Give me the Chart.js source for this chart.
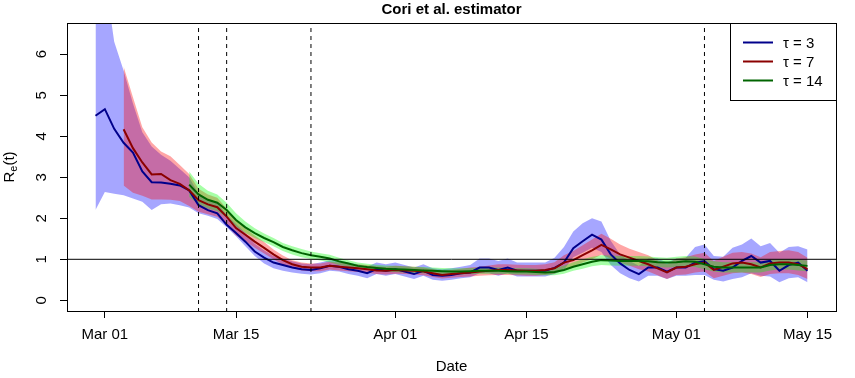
<!DOCTYPE html>
<html>
<head>
<meta charset="utf-8">
<script src="https://cdn.jsdelivr.net/npm/chart.js@4/dist/chart.umd.min.js"></script>
<style>
  html, body { margin: 0; padding: 0; background: #fff; }
</style>
</head>
<body>
<canvas id="chart" width="855" height="378"></canvas>
<script>
// first day of the series = Feb 29 (day -1, Mar 01 = day 0)
const firstDay = -1;

const tickDays = [0, 14, 31, 45, 61, 75];
const tickLabels = ['Mar 01', 'Mar 15', 'Apr 01', 'Apr 15', 'May 01', 'May 15'];
const yTicks = [0, 1, 2, 3, 4, 5, 6];
const breakDays = [10, 13, 22, 64]; // Mar 11, Mar 14, Mar 23, May 04

// tau = 3
const blueMean = [
  4.50, 4.66, 4.18, 3.84, 3.60, 3.14, 2.88, 2.87, 2.84, 2.80,
  2.68, 2.32, 2.20, 2.12, 1.84, 1.64, 1.43, 1.19, 1.04, 0.92,
  0.86, 0.80, 0.76, 0.74, 0.78, 0.84, 0.82, 0.76, 0.72, 0.66,
  0.76, 0.72, 0.76, 0.70, 0.64, 0.72, 0.62, 0.60, 0.62, 0.66,
  0.68, 0.80, 0.80, 0.74, 0.80, 0.72, 0.72, 0.72, 0.72, 0.79,
  0.92, 1.27, 1.44, 1.60, 1.48, 1.12, 0.90, 0.74, 0.64, 0.80,
  0.80, 0.70, 0.80, 0.80, 0.92, 0.96, 0.76, 0.72, 0.80, 0.96,
  1.08, 0.92, 0.96, 0.72, 0.86, 0.92, 0.72
];
const blueUpper = [
  10.0, 7.9, 6.3, 5.6, 4.8, 4.1, 3.75, 3.55, 3.4, 3.2,
  3.0, 2.6, 2.45, 2.38, 2.08, 1.86, 1.64, 1.38, 1.22, 1.08,
  1.02, 0.95, 0.90, 0.88, 0.92, 0.98, 0.98, 0.92, 0.88, 0.82,
  0.92, 0.88, 0.92, 0.86, 0.80, 0.88, 0.78, 0.76, 0.78, 0.82,
  0.86, 1.02, 1.02, 0.96, 1.02, 0.92, 0.92, 0.92, 0.92, 1.04,
  1.30, 1.68, 1.88, 2.0, 1.92, 1.45, 1.12, 0.96, 0.84, 1.02,
  1.02, 0.92, 1.02, 1.04, 1.30, 1.36, 1.08, 1.06, 1.28, 1.36,
  1.51, 1.32, 1.40, 1.16, 1.30, 1.32, 1.24
];
const blueLower = [
  2.2, 2.64, 2.6, 2.56, 2.48, 2.40, 2.20, 2.34, 2.36, 2.32,
  2.26, 2.12, 2.06, 1.98, 1.78, 1.56, 1.32, 1.08, 0.90, 0.78,
  0.72, 0.68, 0.65, 0.63, 0.66, 0.72, 0.70, 0.64, 0.60, 0.54,
  0.64, 0.60, 0.64, 0.58, 0.52, 0.60, 0.50, 0.48, 0.50, 0.54,
  0.56, 0.66, 0.66, 0.60, 0.66, 0.58, 0.58, 0.58, 0.58, 0.64,
  0.74, 1.05, 1.16, 1.28, 1.18, 0.86, 0.66, 0.54, 0.46, 0.60,
  0.60, 0.52, 0.60, 0.60, 0.62, 0.62, 0.50, 0.46, 0.52, 0.56,
  0.66, 0.60, 0.58, 0.44, 0.54, 0.56, 0.44
];

// tau = 7
const redMean = [
  null, null, null, 4.17, 3.71, 3.36, 3.07, 3.08, 2.93, 2.84,
  2.68, 2.44, 2.34, 2.27, 2.04, 1.76, 1.60, 1.43, 1.28, 1.12,
  0.98, 0.88, 0.82, 0.80, 0.80, 0.84, 0.82, 0.80, 0.78, 0.76,
  0.73, 0.72, 0.74, 0.73, 0.72, 0.70, 0.66, 0.62, 0.64, 0.66,
  0.68, 0.70, 0.72, 0.74, 0.74, 0.73, 0.72, 0.72, 0.74, 0.78,
  0.92, 0.98, 1.10, 1.22, 1.35, 1.24, 1.12, 1.04, 0.96, 0.88,
  0.78, 0.68, 0.80, 0.82, 0.88, 0.92, 0.74, 0.82, 0.90, 0.92,
  0.88, 0.80, 0.90, 0.92, 0.92, 0.88, 0.76
];
const redUpper = [
  null, null, null, 5.7, 4.95, 4.22, 3.85, 3.63, 3.51, 3.30,
  3.08, 2.72, 2.58, 2.50, 2.24, 1.94, 1.76, 1.58, 1.42, 1.24,
  1.09, 0.98, 0.92, 0.90, 0.90, 0.94, 0.92, 0.90, 0.88, 0.86,
  0.83, 0.82, 0.84, 0.83, 0.82, 0.80, 0.76, 0.72, 0.74, 0.77,
  0.80, 0.82, 0.85, 0.88, 0.88, 0.87, 0.86, 0.86, 0.88, 0.93,
  1.10, 1.20, 1.34, 1.48, 1.62, 1.50, 1.36, 1.26, 1.18, 1.10,
  0.98, 0.88, 1.02, 1.05, 1.12, 1.16, 0.96, 1.06, 1.16, 1.18,
  1.14, 1.05, 1.18, 1.20, 1.22, 1.18, 1.04
];
const redLower = [
  null, null, null, 2.8, 2.62, 2.55, 2.46, 2.46, 2.45, 2.42,
  2.30, 2.16, 2.10, 2.04, 1.84, 1.58, 1.44, 1.28, 1.14, 1.00,
  0.87, 0.78, 0.73, 0.71, 0.71, 0.75, 0.73, 0.71, 0.69, 0.67,
  0.64, 0.63, 0.65, 0.64, 0.63, 0.61, 0.57, 0.53, 0.55, 0.57,
  0.58, 0.60, 0.61, 0.62, 0.62, 0.61, 0.60, 0.60, 0.62, 0.65,
  0.77, 0.82, 0.92, 1.00, 1.11, 1.02, 0.92, 0.84, 0.76, 0.70,
  0.61, 0.52, 0.62, 0.63, 0.68, 0.70, 0.54, 0.60, 0.66, 0.68,
  0.64, 0.57, 0.64, 0.66, 0.66, 0.62, 0.52
];

// tau = 14
const greenMean = [
  null, null, null, null, null, null, null, null, null, null,
  2.82, 2.58, 2.45, 2.38, 2.20, 1.96, 1.78, 1.64, 1.52, 1.42,
  1.30, 1.22, 1.15, 1.10, 1.06, 1.02, 0.95, 0.90, 0.84, 0.81,
  0.79, 0.77, 0.76, 0.75, 0.74, 0.73, 0.72, 0.71, 0.70, 0.70,
  0.71, 0.72, 0.72, 0.72, 0.71, 0.70, 0.70, 0.69, 0.68, 0.69,
  0.74, 0.82, 0.88, 0.94, 0.98, 0.97, 0.96, 0.96, 0.96, 0.95,
  0.93, 0.92, 0.93, 0.95, 0.94, 0.88, 0.82, 0.80, 0.80, 0.80,
  0.80, 0.80, 0.86, 0.88, 0.88, 0.86, 0.84
];
const greenUpper = [
  null, null, null, null, null, null, null, null, null, null,
  3.14, 2.84, 2.67, 2.58, 2.38, 2.12, 1.92, 1.76, 1.63, 1.52,
  1.40, 1.32, 1.25, 1.19, 1.15, 1.11, 1.04, 0.98, 0.92, 0.89,
  0.87, 0.85, 0.84, 0.83, 0.82, 0.81, 0.80, 0.79, 0.78, 0.78,
  0.79, 0.80, 0.80, 0.80, 0.79, 0.78, 0.78, 0.77, 0.76, 0.78,
  0.84, 0.93, 1.00, 1.06, 1.10, 1.09, 1.08, 1.08, 1.08, 1.07,
  1.05, 1.04, 1.06, 1.08, 1.07, 1.01, 0.95, 0.93, 0.93, 0.93,
  0.93, 0.93, 0.99, 1.01, 1.01, 0.99, 0.97
];
const greenLower = [
  null, null, null, null, null, null, null, null, null, null,
  2.52, 2.34, 2.24, 2.18, 2.02, 1.80, 1.64, 1.52, 1.42, 1.32,
  1.20, 1.12, 1.05, 1.01, 0.97, 0.93, 0.86, 0.82, 0.77, 0.74,
  0.72, 0.70, 0.69, 0.68, 0.67, 0.66, 0.65, 0.64, 0.63, 0.63,
  0.64, 0.65, 0.65, 0.65, 0.64, 0.63, 0.63, 0.62, 0.61, 0.61,
  0.65, 0.72, 0.77, 0.83, 0.86, 0.85, 0.84, 0.84, 0.84, 0.83,
  0.81, 0.80, 0.81, 0.82, 0.81, 0.76, 0.70, 0.68, 0.68, 0.68,
  0.68, 0.68, 0.73, 0.75, 0.75, 0.73, 0.71
];

const seriesNames = ['\u03c4 = 3', '\u03c4 = 7', '\u03c4 = 14'];
const lineColors = ['#00008b', '#8b0000', '#006400'];
const bandColors = ['rgba(0, 0, 255, 0.35)', 'rgba(255, 0, 0, 0.35)', 'rgba(0, 255, 0, 0.35)'];

const fontFamily = '"Liberation Sans", Arial, Helvetica, sans-serif';
const xMin = -4.04, xMax = 78.04;
const yMin = -0.26, yMax = 6.76;

function toPoints(values) {
    return values.map((v, i) => ({ x: firstDay + i, y: v }));
}

function lineSet(values, color) {
    return { data: toPoints(values), borderColor: color, borderWidth: 2, pointRadius: 0, fill: false, spanGaps: false };
}

function bandSets(upper, lower, color) {
    return [
        { data: toPoints(upper), borderWidth: 0, borderColor: 'transparent', backgroundColor: color, pointRadius: 0, fill: '+1' },
        { data: toPoints(lower), borderWidth: 0, borderColor: 'transparent', pointRadius: 0, fill: false }
    ];
}

// reference lines (R abline)
const refSets = breakDays.map(d => ({
    data: [{ x: d, y: yMin - 1 }, { x: d, y: yMax + 1 }],
    borderColor: '#000', borderWidth: 1, borderDash: [4, 4], pointRadius: 0, fill: false
}));
refSets.push({
    data: [{ x: xMin - 5, y: 1 }, { x: xMax + 5, y: 1 }],
    borderColor: '#000', borderWidth: 1, pointRadius: 0, fill: false
});

// first index = drawn last (on top)
const datasets = [
    ...refSets,
    lineSet(greenMean, lineColors[2]),
    lineSet(redMean, lineColors[1]),
    lineSet(blueMean, lineColors[0]),
    ...bandSets(greenUpper, greenLower, bandColors[2]),
    ...bandSets(redUpper, redLower, bandColors[1]),
    ...bandSets(blueUpper, blueLower, bandColors[0])
];

const rDecor = {
    id: 'rDecor',
    afterDraw(chart) {
        const { ctx, chartArea: a } = chart;
        ctx.save();
        ctx.strokeStyle = '#000';
        ctx.lineWidth = 1;
        ctx.setLineDash([]);
        ctx.strokeRect(a.left + 0.5, a.top + 0.5, a.right - a.left, a.bottom - a.top);

        // title
        ctx.fillStyle = '#000';
        ctx.font = 'bold 15px ' + fontFamily;
        ctx.textAlign = 'center';
        ctx.textBaseline = 'middle';
        ctx.fillText('Cori et al. estimator', (a.left + a.right) / 2, 10);

        // y label R_e(t)
        ctx.save();
        ctx.translate(9, (a.top + a.bottom) / 2);
        ctx.rotate(-Math.PI / 2);
        ctx.textAlign = 'left';
        ctx.textBaseline = 'alphabetic';
        ctx.font = '15px ' + fontFamily;
        const wR = ctx.measureText('R').width;
        const wT = ctx.measureText('(t)').width;
        ctx.font = '11px ' + fontFamily;
        const wE = ctx.measureText('e').width;
        let x0 = -(wR + wE + wT) / 2;
        ctx.font = '15px ' + fontFamily;
        ctx.fillText('R', x0, 5);
        ctx.font = '11px ' + fontFamily;
        ctx.fillText('e', x0 + wR, 8);
        ctx.font = '15px ' + fontFamily;
        ctx.fillText('(t)', x0 + wR + wE, 5);
        ctx.restore();

        // legend box
        const lx = a.right - 106, ly = a.top;
        ctx.fillStyle = '#fff';
        ctx.fillRect(lx, ly, 106, 77);
        ctx.strokeRect(lx + 0.5, ly + 0.5, 106, 77);
        ctx.font = '15px ' + fontFamily;
        ctx.textAlign = 'left';
        ctx.textBaseline = 'middle';
        seriesNames.forEach((name, i) => {
            const y = ly + 19.5 + i * 19;
            ctx.strokeStyle = lineColors[i];
            ctx.lineWidth = 2;
            ctx.beginPath();
            ctx.moveTo(lx + 13, y);
            ctx.lineTo(lx + 43, y);
            ctx.stroke();
            ctx.fillStyle = '#000';
            ctx.fillText(name, lx + 53, y + 1);
        });
        ctx.restore();
    }
};

const axisGrid = { drawOnChartArea: false, drawTicks: true, tickLength: 7, color: '#000', lineWidth: 1 };

new Chart(document.getElementById('chart'), {
    type: 'line',
    data: { datasets: datasets },
    options: {
        responsive: false,
        animation: false,
        events: [],
        layout: { padding: { top: 19, right: 19, left: 0, bottom: 0 } },
        elements: { line: { tension: 0 } },
        plugins: {
            legend: { display: false },
            tooltip: { enabled: false },
            filler: { drawTime: 'beforeDatasetsDraw' }
        },
        scales: {
            x: {
                type: 'linear',
                min: xMin,
                max: xMax,
                afterBuildTicks: s => { s.ticks = tickDays.map(v => ({ value: v })); },
                afterFit: s => { s.height = 67; },
                grid: axisGrid,
                border: { display: false },
                ticks: {
                    autoSkip: false,
                    maxRotation: 0,
                    color: '#000',
                    padding: 8,
                    font: { family: fontFamily, size: 15 },
                    callback: v => tickLabels[tickDays.indexOf(v)]
                },
                title: {
                    display: true,
                    text: 'Date',
                    color: '#000',
                    font: { family: fontFamily, size: 15 },
                    padding: { top: 0, bottom: 2 }
                }
            },
            y: {
                min: yMin,
                max: yMax,
                afterBuildTicks: s => { s.ticks = yTicks.map(v => ({ value: v })); },
                afterFit: s => { s.width = 67; },
                grid: axisGrid,
                border: { display: false },
                ticks: {
                    minRotation: 90,
                    maxRotation: 90,
                    crossAlign: 'center',
                    padding: 14,
                    color: '#000',
                    font: { family: fontFamily, size: 15 },
                    callback: v => String(v)
                }
            }
        }
    },
    plugins: [rDecor]
});
</script>
</body>
</html>
